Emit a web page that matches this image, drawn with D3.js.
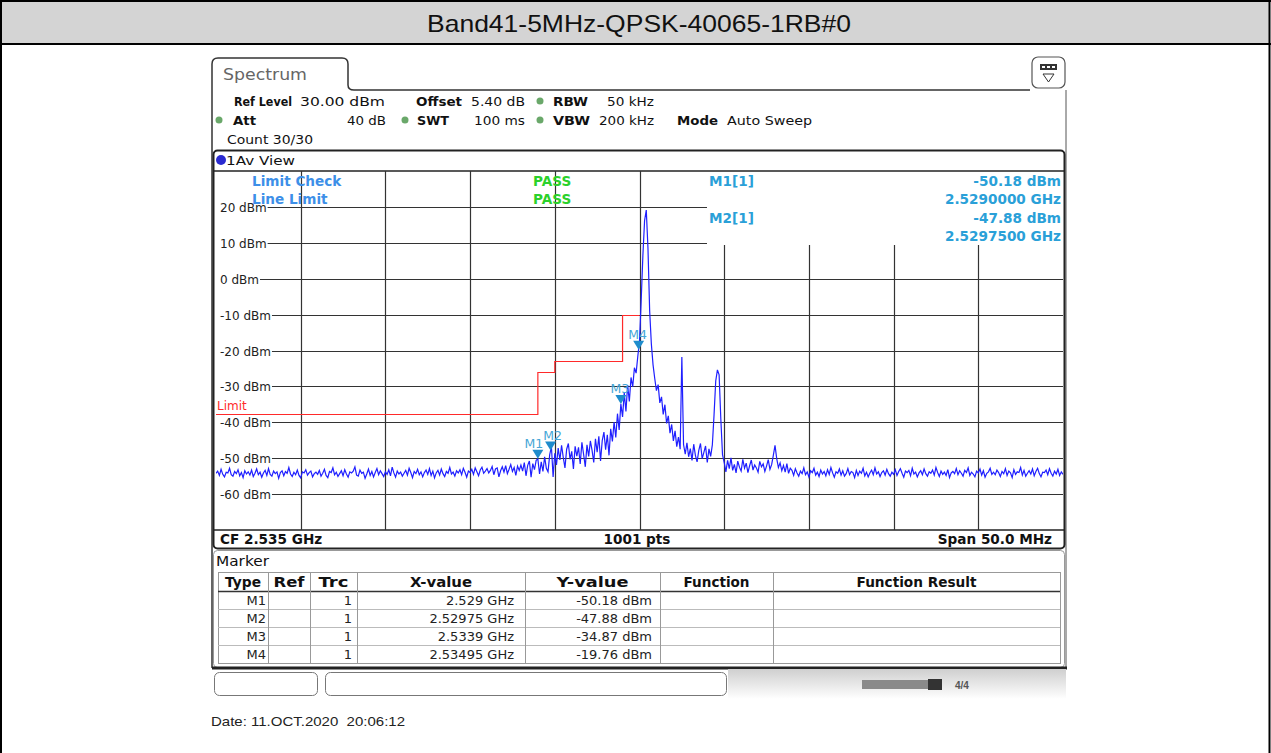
<!DOCTYPE html>
<html>
<head>
<meta charset="utf-8">
<script src="https://cdn.jsdelivr.net/npm/d3@7/dist/d3.min.js"></script>
<style>
  html, body { margin: 0; padding: 0; background: #fff; }
  svg { display: block; }
  text { white-space: pre; }
</style>
</head>
<body>
<svg id="chart" width="1271" height="753"></svg>
<script>
// ---------------- DATA ----------------
const chartTitle = "Band41-5MHz-QPSK-40065-1RB#0";
const traceStartMHz = 2510;
const traceStopMHz = 2560;
// 501 trace points (0.1 MHz spacing), dBm
const traceDbm = [
-54.2,-53.6,-54.8,-53.1,-54.5,-55.2,-53.9,-54.1,-52.8,-54.6,-55.0,-53.7,-54.3,-53.2,-54.9,-54.0,-55.4,-53.5,-54.4,-53.8,
-54.7,-53.3,-55.1,-54.2,-53.0,-54.6,-53.9,-55.3,-54.1,-53.4,-54.8,-52.9,-54.5,-55.0,-53.6,-54.3,-53.8,-55.6,-54.0,-53.5,
-54.9,-53.7,-54.2,-52.6,-54.4,-55.1,-53.9,-54.6,-53.3,-54.8,-55.5,-53.8,-54.1,-53.2,-54.7,-54.0,-53.6,-55.2,-54.3,-53.9,
-54.5,-53.4,-55.0,-54.2,-53.1,-54.8,-55.4,-53.7,-54.0,-52.7,-54.6,-53.9,-55.1,-54.3,-53.5,-54.9,-53.2,-54.4,-55.3,-53.8,
-54.1,-53.6,-52.4,-54.7,-55.0,-53.3,-54.2,-53.9,-55.6,-54.4,-53.0,-54.8,-53.7,-55.2,-54.0,-52.9,-54.6,-53.5,-54.3,-55.1,
-53.8,-54.5,-53.2,-54.9,-52.5,-54.1,-55.3,-53.6,-54.4,-53.9,-55.0,-54.2,-53.4,-54.7,-52.8,-54.0,-55.4,-53.7,-54.3,-53.1,
-54.6,-53.8,-55.2,-54.0,-53.3,-54.5,-52.9,-54.8,-53.6,-55.5,-54.1,-53.4,-54.7,-53.0,-54.3,-55.1,-53.7,-54.2,-52.6,-54.4,
-53.9,-55.0,-53.5,-54.1,-53.2,-54.6,-52.8,-53.9,-55.3,-53.6,-54.0,-53.1,-54.5,-52.7,-53.8,-54.9,-53.3,-52.5,-54.2,-53.6,
-52.9,-54.1,-53.4,-52.3,-54.6,-53.0,-52.7,-55.2,-53.5,-52.4,-53.9,-52.1,-54.3,-53.1,-51.8,-53.7,-52.6,-54.8,-52.2,-53.4,
-51.9,-53.6,-51.2,-54.9,-52.0,-50.8,-55.3,-51.5,-53.2,-50.6,-50.18,-54.4,-51.0,-53.7,-49.6,-52.8,-53.8,-49.0,-46.8,-55.2,
-48.6,-51.9,-47.2,-50.5,-46.4,-49.8,-52.7,-47.5,-45.9,-50.3,-48.1,-53.0,-46.7,-49.4,-47.0,-51.6,-45.6,-48.9,-52.4,-46.3,
-49.5,-45.2,-47.8,-51.2,-44.6,-48.3,-43.9,-50.8,-45.1,-42.7,-47.6,-43.5,-49.2,-41.8,-45.3,-39.9,-44.2,-37.6,-42.1,-34.87,
-38.5,-31.8,-37.0,-29.6,-34.2,-27.5,-30.1,-24.8,-26.3,-21.6,
-17.5,-6.0,6.5,16.2,19.1,8.5,-9.0,-18.2,-24.0,-27.8,-31.2,-29.5,-34.6,
-32.9,-37.8,-35.1,-40.3,-38.2,-43.0,-40.6,-45.2,-42.4,-46.8,-44.1,-47.5,-21.8,-46.2,-48.9,-45.7,-49.6,
-47.3,-50.6,-46.1,-49.2,-51.0,-47.8,-45.9,-50.1,-48.4,-46.6,-51.2,-47.4,-49.5,-46.3,
-38.0,-28.5,-25.4,-26.8,-39.0,-49.0,
-51.2,-53.8,-50.6,-52.9,-49.9,-53.4,-51.7,-54.1,-50.8,-52.5,-53.6,-50.3,-52.8,-51.4,-54.0,-52.1,-50.5,-53.3,-51.9,-52.7,
-53.9,-50.9,-52.4,-51.6,-53.7,-52.2,-50.4,-53.1,-51.8,-49.2,-46.4,-50.1,-52.6,-51.3,-53.5,-52.0,-53.9,-51.5,-54.2,-52.8,
-53.4,-54.8,-52.9,-54.1,-55.0,-53.6,-54.3,-52.7,-54.6,-53.8,-55.2,-53.5,-54.0,-52.8,-54.7,-53.9,-55.1,-53.3,-54.4,-53.7,
-54.9,-53.2,-54.5,-52.6,-54.1,-55.3,-53.8,-54.2,-53.0,-54.7,-53.5,-55.0,-54.3,-52.9,-54.6,-53.7,-54.0,-55.4,-53.4,-54.8,
-53.6,-54.2,-52.8,-54.9,-53.9,-55.2,-54.1,-53.3,-54.6,-52.7,-54.4,-53.8,-55.1,-54.0,-53.5,-54.7,-53.1,-54.3,-55.0,-53.9,
-54.5,-53.2,-54.8,-53.7,-52.9,-54.2,-55.3,-53.6,-54.0,-53.4,-54.9,-52.8,-54.4,-53.9,-55.2,-54.1,-53.5,-54.6,-53.0,-54.3,
-55.0,-53.8,-54.2,-53.3,-54.7,-52.6,-54.0,-55.1,-53.6,-54.5,-53.9,-54.8,-53.2,-55.4,-54.1,-53.7,-54.3,-52.9,-54.6,-53.5,
-54.2,-55.0,-53.4,-54.0,-52.7,-54.8,-53.9,-54.4,-55.2,-53.6,-54.1,-53.0,-54.7,-53.5,-55.3,-54.2,-53.8,-52.8,-54.5,-53.9,
-54.6,-53.3,-54.0,-55.1,-53.7,-54.3,-52.9,-54.8,-53.6,-54.1,-55.4,-53.2,-54.5,-53.8,-54.0,-52.6,-54.7,-53.4,-55.0,-54.2,
-53.5,-54.4,-53.0,-54.9,-53.7,-52.8,-54.3,-55.2,-53.9,-54.0,-53.3,-54.6,-52.9,-54.2,-55.0,-53.6,-54.4,-53.1,-54.8,-53.8,-54.5
];
const yTickDbm = [20, 10, 0, -10, -20, -30, -40, -50, -60];
const xGridMHz = [2515, 2520, 2525, 2530, 2535, 2540, 2545, 2550, 2555];
const yMinDbm = -70, yMaxDbm = 30;

const limitStartMHz = [2510, 2529, 2530, 2534];
const limitEndMHz   = [2529, 2530, 2534, 2535];
const limitLevelDbm = [-37.7, -25.9, -22.9, -10.0];

const markerNames = ["M1", "M2", "M3", "M4"];
const markerFreqGHz = [2.529, 2.52975, 2.5339, 2.53495];
const markerDbm = [-50.18, -47.88, -34.87, -19.76];
const markerXText = ["2.529 GHz", "2.52975 GHz", "2.5339 GHz", "2.53495 GHz"];
const markerYText = ["-50.18 dBm", "-47.88 dBm", "-34.87 dBm", "-19.76 dBm"];
const tableHeaders = ["Type", "Ref", "Trc", "X-value", "Y-value", "Function", "Function Result"];

// ---------------- DRAW ----------------
const svg = d3.select("#chart");
const FP = "'DejaVu Sans', Verdana, sans-serif";
const FA = "'Liberation Sans', Arial, sans-serif";

function fitText(sel, len) {
  return sel.attr("textLength", len).attr("lengthAdjust", "spacingAndGlyphs");
}

// outer frame + title band
svg.append("rect").attr("x", 1).attr("y", 1).attr("width", 1268).attr("height", 42).attr("fill", "#d4d4d4");
svg.append("line").attr("x1", 0).attr("x2", 1271).attr("y1", 1).attr("y2", 1).attr("stroke", "#000").attr("stroke-width", 2);
svg.append("line").attr("x1", 0).attr("x2", 1271).attr("y1", 44).attr("y2", 44).attr("stroke", "#000").attr("stroke-width", 2);
svg.append("line").attr("x1", 1).attr("x2", 1).attr("y1", 0).attr("y2", 753).attr("stroke", "#000").attr("stroke-width", 2);
svg.append("line").attr("x1", 1269.5).attr("x2", 1269.5).attr("y1", 0).attr("y2", 753).attr("stroke", "#000").attr("stroke-width", 2);
fitText(svg.append("text").attr("x", 427).attr("y", 32)
  .attr("font-family", FA).attr("font-size", 24).attr("fill", "#111").text(chartTitle), 424);

// spectrum window frame
svg.append("path")
  .attr("d", "M212,668 L212,64 Q212,58 218,58 L342,58 Q348,58 348,64 L348,85 Q348,90 354,90 L1030,90")
  .attr("fill", "none").attr("stroke", "#333").attr("stroke-width", 1.5);
svg.append("line").attr("x1", 1066).attr("x2", 1066).attr("y1", 90).attr("y2", 668).attr("stroke", "#555").attr("stroke-width", 1);
fitText(svg.append("text").attr("x", 223).attr("y", 80).attr("font-family", FP).attr("font-size", 15).attr("fill", "#666").text("Spectrum"), 84);
// top-right icon
svg.append("rect").attr("x", 1032).attr("y", 57).attr("width", 33).attr("height", 31).attr("rx", 6)
  .attr("fill", "#fff").attr("stroke", "#555").attr("stroke-width", 1.2);
svg.append("rect").attr("x", 1040).attr("y", 64).attr("width", 17).attr("height", 6).attr("fill", "#333");
svg.append("rect").attr("x", 1042).attr("y", 66).attr("width", 3).attr("height", 2).attr("fill", "#fff");
svg.append("rect").attr("x", 1047).attr("y", 66).attr("width", 3).attr("height", 2).attr("fill", "#fff");
svg.append("rect").attr("x", 1052).attr("y", 66).attr("width", 3).attr("height", 2).attr("fill", "#fff");
svg.append("path").attr("d", "M1043,74 L1054,74 L1048.5,82 Z").attr("fill", "none").attr("stroke", "#333");

// header settings
const hdr = svg.append("g").attr("font-family", FP).attr("font-size", 13).attr("fill", "#111");
function ht(x, y, s, bold, len, anchor) {
  const t = hdr.append("text").attr("x", x).attr("y", y).attr("font-weight", bold ? "bold" : "normal")
    .attr("text-anchor", anchor || "start").text(s);
  if (len) fitText(t, len);
}
ht(234, 106, "Ref Level", true, 58); ht(300, 106, "30.00 dBm", false, 85);
ht(416, 106, "Offset", true, 46); ht(471, 106, "5.40 dB", false, 54);
ht(553, 106, "RBW", true, 35); ht(607, 106, "50 kHz", false, 47);
ht(233, 125, "Att", true, 23); ht(347, 125, "40 dB", false, 39);
ht(417, 125, "SWT", true, 32); ht(474, 125, "100 ms", false, 51);
ht(553, 125, "VBW", true, 37); ht(599, 125, "200 kHz", false, 55);
ht(677, 125, "Mode", true, 41); ht(727, 125, "Auto Sweep", false, 85);
ht(227, 144, "Count 30/30", false, 86);
[[540, 101], [219, 120], [405, 120], [540, 120]].forEach(p => {
  svg.append("circle").attr("cx", p[0]).attr("cy", p[1]).attr("r", 3.5).attr("fill", "#6aa86a");
});

// plot box
const P = { l: 216, r: 1063, t: 171, b: 530 };
const x = d3.scaleLinear().domain([traceStartMHz, traceStopMHz]).range([P.l, P.r]);
const y = d3.scaleLinear().domain([yMinDbm, yMaxDbm]).range([P.b, P.t]);

svg.append("rect").attr("x", 213.5).attr("y", 150.5).attr("width", 851).attr("height", 398).attr("rx", 4)
  .attr("fill", "#fff").attr("stroke", "#222").attr("stroke-width", 2);
svg.append("circle").attr("cx", 221).attr("cy", 160).attr("r", 5).attr("fill", "#2a2ad0");
fitText(svg.append("text").attr("x", 226).attr("y", 165).attr("font-family", FP).attr("font-size", 13).attr("fill", "#111").text("1Av View"), 69);
svg.append("line").attr("x1", 214).attr("x2", 1064).attr("y1", P.t).attr("y2", P.t).attr("stroke", "#222").attr("stroke-width", 1.5);
svg.append("line").attr("x1", 214).attr("x2", 1064).attr("y1", P.b).attr("y2", P.b).attr("stroke", "#222").attr("stroke-width", 1.5);

const infoLeft = 707, infoBottom = 245;
const grid = svg.append("g").attr("stroke", "#333").attr("stroke-width", 1.2);
// vertical grid
xGridMHz.forEach(f => {
  const xx = Math.round(x(f)) + 0.5;
  grid.append("line").attr("x1", xx).attr("x2", xx)
    .attr("y1", xx > infoLeft ? infoBottom : P.t).attr("y2", P.b);
});
// y labels + horizontal grid
const ylab = svg.append("g").attr("font-family", FP).attr("font-size", 12).attr("fill", "#222");
yTickDbm.forEach(v => {
  const yy = Math.round(y(v)) + 0.5;
  const t = ylab.append("text").attr("x", 220).attr("y", yy + 4.5).text(v + " dBm");
  const w = t.node().getComputedTextLength();
  grid.append("line").attr("x1", 220 + w + 1).attr("x2", v >= 10 ? infoLeft : P.r)
    .attr("y1", yy).attr("y2", yy);
});

// marker info box (white)
svg.append("rect").attr("x", infoLeft + 0.5).attr("y", P.t + 1).attr("width", P.r - infoLeft - 1).attr("height", infoBottom - P.t - 2).attr("fill", "#fff");

// limit line
const limitPts = [];
limitLevelDbm.forEach((lv, i) => {
  limitPts.push([limitStartMHz[i], lv]);
  limitPts.push([limitEndMHz[i], lv]);
});
svg.append("path").datum(limitPts)
  .attr("d", d3.line().x(d => x(d[0])).y(d => Math.round(y(d[1])) + 0.5))
  .attr("fill", "none").attr("stroke", "#ff2a2a").attr("stroke-width", 1.2);
svg.append("text").attr("x", 217).attr("y", 410).attr("font-family", FP).attr("font-size", 12).attr("fill", "#ff2a2a").text("Limit");

// clip + trace
svg.append("clipPath").attr("id", "clip").append("rect").attr("x", P.l).attr("y", P.t).attr("width", P.r - P.l).attr("height", P.b - P.t);
const step = (traceStopMHz - traceStartMHz) / (traceDbm.length - 1);
svg.append("path").datum(traceDbm).attr("clip-path", "url(#clip)")
  .attr("d", d3.line().x((d, i) => x(traceStartMHz + i * step)).y(d => y(d)))
  .attr("fill", "none").attr("stroke", "#1f1fff").attr("stroke-width", 1.2);

// limit check / markers text
const info = svg.append("g").attr("font-family", FP).attr("font-size", 13.6).attr("font-weight", "bold");
info.append("text").attr("x", 252).attr("y", 186).attr("fill", "#3d8fe8").text("Limit Check");
info.append("text").attr("x", 252).attr("y", 204).attr("fill", "#3d8fe8").text("Line Limit");
info.append("text").attr("x", 533).attr("y", 186).attr("fill", "#2bd12b").text("PASS");
info.append("text").attr("x", 533).attr("y", 204).attr("fill", "#2bd12b").text("PASS");
info.append("text").attr("x", 709).attr("y", 186).attr("fill", "#2aa0d8").text("M1[1]");
info.append("text").attr("x", 709).attr("y", 223).attr("fill", "#2aa0d8").text("M2[1]");
info.append("text").attr("x", 1061).attr("y", 186).attr("text-anchor", "end").attr("fill", "#2aa0d8").text(markerYText[0]);
info.append("text").attr("x", 1061).attr("y", 204).attr("text-anchor", "end").attr("fill", "#2aa0d8").text(d3.format(".7f")(markerFreqGHz[0]) + " GHz");
info.append("text").attr("x", 1061).attr("y", 223).attr("text-anchor", "end").attr("fill", "#2aa0d8").text(markerYText[1]);
info.append("text").attr("x", 1061).attr("y", 241).attr("text-anchor", "end").attr("fill", "#2aa0d8").text(d3.format(".7f")(markerFreqGHz[1]) + " GHz");

// marker triangles
const labelDx = [-4, 2, -1, -1];
const mk = svg.append("g");
markerNames.forEach((n, i) => {
  const mx = x(markerFreqGHz[i] * 1000), my = y(markerDbm[i]);
  mk.append("path").attr("d", `M${mx - 5.5},${my - 9} L${mx + 5.5},${my - 9} L${mx},${my} Z`).attr("fill", "#1e8ccc");
  mk.append("text").attr("x", mx + labelDx[i]).attr("y", my - 11).attr("text-anchor", "middle")
    .attr("font-family", FP).attr("font-size", 12.5).attr("fill", "#46a6d6").text(n);
});

// bottom label row
const bl = svg.append("g").attr("font-family", FP).attr("font-size", 13.6).attr("font-weight", "bold").attr("fill", "#111");
bl.append("text").attr("x", 220).attr("y", 544).text("CF 2.535 GHz");
bl.append("text").attr("x", 637).attr("y", 544).attr("text-anchor", "middle").text("1001 pts");
bl.append("text").attr("x", 1052).attr("y", 544).attr("text-anchor", "end").text("Span 50.0 MHz");

// marker table
svg.append("rect").attr("x", 213.5).attr("y", 550.5).attr("width", 851).attr("height", 117).attr("rx", 4)
  .attr("fill", "#fff").attr("stroke", "#999").attr("stroke-width", 1);
svg.append("line").attr("x1", 212).attr("x2", 1067).attr("y1", 668).attr("y2", 668).attr("stroke", "#222").attr("stroke-width", 3);
fitText(svg.append("text").attr("x", 216).attr("y", 566).attr("font-family", FP).attr("font-size", 14).attr("fill", "#111").text("Marker"), 53);
const colX = [218, 268, 310, 357, 525, 660, 773, 1060];
const headW = [36, 31, 30, 62, 72, 66, 120];
const rowY0 = 572, headH = 19, rowH = 18;
const tb = svg.append("g");
tb.append("rect").attr("x", colX[0] + 0.5).attr("y", rowY0 + 0.5).attr("width", colX[7] - colX[0]).attr("height", headH + rowH * 4)
  .attr("fill", "none").attr("stroke", "#999");
tb.append("line").attr("x1", colX[0]).attr("x2", colX[7]).attr("y1", rowY0 + headH + 0.5).attr("y2", rowY0 + headH + 0.5).attr("stroke", "#333").attr("stroke-width", 1.5);
for (let r = 1; r < 4; r++) {
  const yy = rowY0 + headH + r * rowH + 0.5;
  tb.append("line").attr("x1", colX[0]).attr("x2", colX[7]).attr("y1", yy).attr("y2", yy).attr("stroke", "#bbb");
}
for (let c = 1; c < 7; c++) {
  tb.append("line").attr("x1", colX[c] + 0.5).attr("x2", colX[c] + 0.5).attr("y1", rowY0).attr("y2", rowY0 + headH + rowH * 4).attr("stroke", "#999");
}
tableHeaders.forEach((h, c) => {
  const cx = (colX[c] + colX[c + 1]) / 2;
  fitText(tb.append("text").attr("x", cx - headW[c] / 2).attr("y", rowY0 + 15)
    .attr("font-family", FP).attr("font-size", 13.5).attr("font-weight", "bold").attr("fill", "#111").text(h), headW[c]);
});
markerNames.forEach((n, r) => {
  const yy = rowY0 + headH + r * rowH + 14;
  const g = tb.append("g").attr("font-family", FP).attr("font-size", 13).attr("fill", "#222").attr("text-anchor", "end");
  g.append("text").attr("x", colX[1] - 2).attr("y", yy).text(n);
  g.append("text").attr("x", colX[3] - 5).attr("y", yy).text("1");
  g.append("text").attr("x", colX[4] - 11).attr("y", yy).text(markerXText[r]);
  g.append("text").attr("x", colX[5] - 8).attr("y", yy).text(markerYText[r]);
});

// bottom status bar
svg.append("rect").attr("x", 214.5).attr("y", 672.5).attr("width", 103).attr("height", 23).attr("rx", 5).attr("fill", "#fff").attr("stroke", "#777");
svg.append("rect").attr("x", 325.5).attr("y", 672.5).attr("width", 401).attr("height", 23).attr("rx", 5).attr("fill", "#fff").attr("stroke", "#777");
const grad = svg.append("defs").append("linearGradient").attr("id", "sb").attr("x1", 0).attr("x2", 0).attr("y1", 0).attr("y2", 1);
grad.append("stop").attr("offset", "0").attr("stop-color", "#cfcfcf");
grad.append("stop").attr("offset", "1").attr("stop-color", "#ffffff");
svg.append("rect").attr("x", 728).attr("y", 669).attr("width", 338).attr("height", 30).attr("fill", "url(#sb)");
svg.append("rect").attr("x", 862).attr("y", 680).attr("width", 66).attr("height", 9).attr("fill", "#8a8a8a");
svg.append("rect").attr("x", 928).attr("y", 679).attr("width", 14).attr("height", 11).attr("fill", "#333");
svg.append("text").attr("x", 955).attr("y", 689).attr("font-family", FA).attr("font-size", 10).attr("font-weight", "bold").attr("fill", "#555").text("4/4");

// date
fitText(svg.append("text").attr("x", 211).attr("y", 726).attr("font-family", FA).attr("font-size", 13).attr("fill", "#222").text("Date: 11.OCT.2020  20:06:12"), 194);
</script>
</body>
</html>
